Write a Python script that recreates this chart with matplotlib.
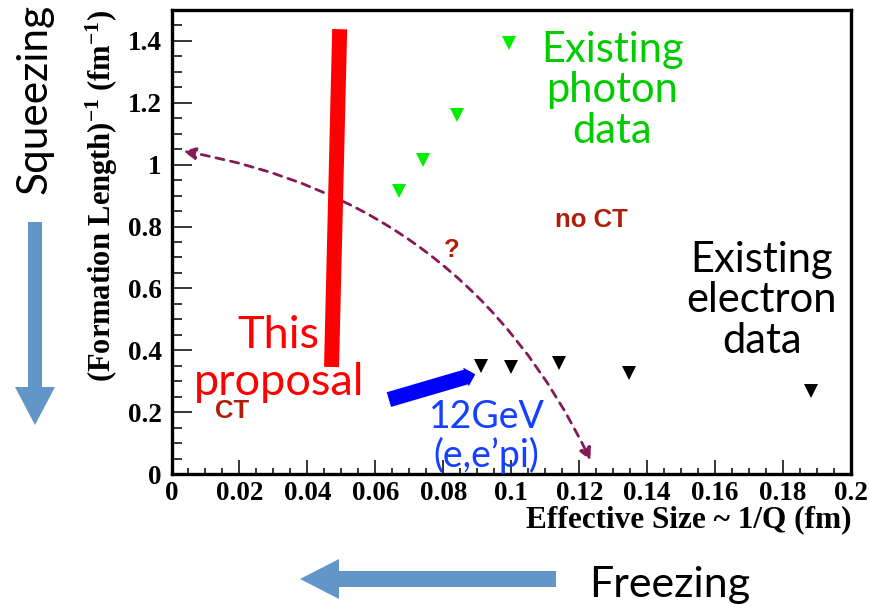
import numpy as np
import matplotlib
matplotlib.use("Agg")
import matplotlib.pyplot as plt
from matplotlib.patches import FancyArrow, FancyArrowPatch
from matplotlib.ticker import MultipleLocator

plt.rcParams['mathtext.fontset'] = 'custom'
plt.rcParams['mathtext.rm'] = 'Liberation Serif:bold'
plt.rcParams['mathtext.it'] = 'Liberation Serif:bold:italic'
plt.rcParams['mathtext.bf'] = 'Liberation Serif:bold'

# data
photon_x = [0.0670, 0.0740, 0.0840, 0.0993]
photon_y = [0.914, 1.015, 1.160, 1.393]
electron_x = [0.0911, 0.0999, 0.1140, 0.1347, 0.1882]
electron_y = [0.349, 0.346, 0.360, 0.327, 0.268]
proposal_x = [0.0471, 0.0495]      # red band, bottom -> top
proposal_y = [0.346, 1.438]
jlab12_x = [0.0632, 0.0902]        # blue arrow, tail -> tip
jlab12_y = [0.238, 0.325]
ct_curve_x = [0.0027, 0.1237]      # dashed CT / no CT boundary
ct_curve_y = [1.045, 0.036]

xmax, ymax = 0.2, 1.5

fig = plt.figure(figsize=(8.69, 6.09), dpi=100)
ax = fig.add_axes([171.5/869, 1-474/609, (851-171.5)/869, (474-10)/609])

ax.plot(photon_x, photon_y, 'v', color='#00EE00', ms=10, mew=0)
ax.plot(electron_x, electron_y, 'v', color='black', ms=9.5, mew=0)
ax.plot(proposal_x, proposal_y, '-', color='#FF0000', lw=10.8, solid_capstyle='butt')

blue = FancyArrowPatch((jlab12_x[0], jlab12_y[0]), (jlab12_x[1], jlab12_y[1]),
                       arrowstyle='simple,head_length=7,head_width=14,tail_width=11',
                       mutation_scale=1, color='#0000FF', lw=0)
ax.add_patch(blue)

curve = FancyArrowPatch((ct_curve_x[0], ct_curve_y[0]), (ct_curve_x[1], ct_curve_y[1]),
                        connectionstyle='arc3,rad=-0.26',
                        arrowstyle='<|-|>,head_length=7,head_width=3.5',
                        mutation_scale=1, color='#841A58', lw=2.0,
                        linestyle=(0, (3, 2.4)))
ax.add_patch(curve)

calibri = ['Lato', 'DejaVu Sans']
ax.text(0.1297, 1.24, 'Existing\nphoton\ndata', color='#00CC00', fontsize=30,
        family=calibri, ha='center', va='center', linespacing=1.07)
ax.text(0.1737, 0.562, 'Existing\nelectron\ndata', color='black', fontsize=30,
        family=calibri, ha='center', va='center', linespacing=1.08)
ax.text(0.0316, 0.372, 'This\nproposal', color='#FF0000', fontsize=32.5,
        family=calibri, ha='center', va='center', linespacing=1.2)
ax.text(0.0928, 0.122, '12GeV\n(e,e\u2019pi)', color='#1440FF', fontsize=27,
        family=calibri, ha='center', va='center', linespacing=1.05)
red_kw = dict(color='#B01E0A', fontsize=18.5, family='Liberation Sans',
              fontweight='bold', ha='center', va='center')
ax.text(0.1235, 0.821, 'no CT', **red_kw)
ax.text(0.0825, 0.724, '?', **red_kw)
ax.text(0.0178, 0.205, 'CT', **red_kw)

ax.set_xlim(0, xmax)
ax.set_ylim(0, ymax)
ax.xaxis.set_major_locator(MultipleLocator(0.02))
ax.xaxis.set_minor_locator(MultipleLocator(0.005))
ax.yaxis.set_major_locator(MultipleLocator(0.2))
ax.yaxis.set_minor_locator(MultipleLocator(0.05))
ax.set_xticks(np.arange(0, 0.201, 0.02))
ax.set_xticklabels(['0', '0.02', '0.04', '0.06', '0.08', '0.1', '0.12', '0.14',
                    '0.16', '0.18', '0.2'])
ax.set_yticks(np.arange(0, 1.41, 0.2))
ax.set_yticklabels(['0', '0.2', '0.4', '0.6', '0.8', '1', '1.2', '1.4'])
ax.tick_params(which='both', direction='in', top=False, right=False, width=1.1)
ax.tick_params(axis='y', which='major', length=14.4, pad=7)
ax.tick_params(axis='y', which='minor', length=7.2)
ax.tick_params(axis='x', which='major', length=10, pad=5)
ax.tick_params(axis='x', which='minor', length=4.5)
for lab in ax.get_xticklabels() + ax.get_yticklabels():
    lab.set_family('Liberation Serif')
    lab.set_fontweight('bold')
    lab.set_fontsize(19.5)
for sp in ax.spines.values():
    sp.set_linewidth(2.4)

ax.set_ylabel(r'(Formation Length)$^{-1}$ (fm$^{-1}$)', family='Liberation Serif',
              fontweight='bold', fontsize=22, loc='top')
ax.yaxis.set_label_coords(-0.076, 1.0)
ax.set_xlabel('Effective Size ~ 1/Q (fm)', family='Liberation Serif',
              fontweight='bold', fontsize=22.5, loc='right')
ax.xaxis.set_label_coords(1.0, -0.068)

# side arrows and captions (figure inches, 100 px per inch)
steel = '#6396C8'
fig.patches.append(FancyArrow(0.35, 3.87, 0, -2.03, width=0.14, head_width=0.40,
                              head_length=0.38, length_includes_head=True,
                              color=steel, lw=0, transform=fig.dpi_scale_trans))
fig.patches.append(FancyArrow(5.56, 0.30, -2.56, 0, width=0.16, head_width=0.40,
                              head_length=0.39, length_includes_head=True,
                              color=steel, lw=0, transform=fig.dpi_scale_trans))
fig.text(0.35, 5.10, 'Squeezing', rotation=90, fontsize=30.5, family=calibri,
         ha='center', va='center', transform=fig.dpi_scale_trans)
fig.text(6.70, 0.24, 'Freezing', fontsize=31, family=calibri,
         ha='center', va='center', transform=fig.dpi_scale_trans)

fig.savefig('out.png', dpi=100)
